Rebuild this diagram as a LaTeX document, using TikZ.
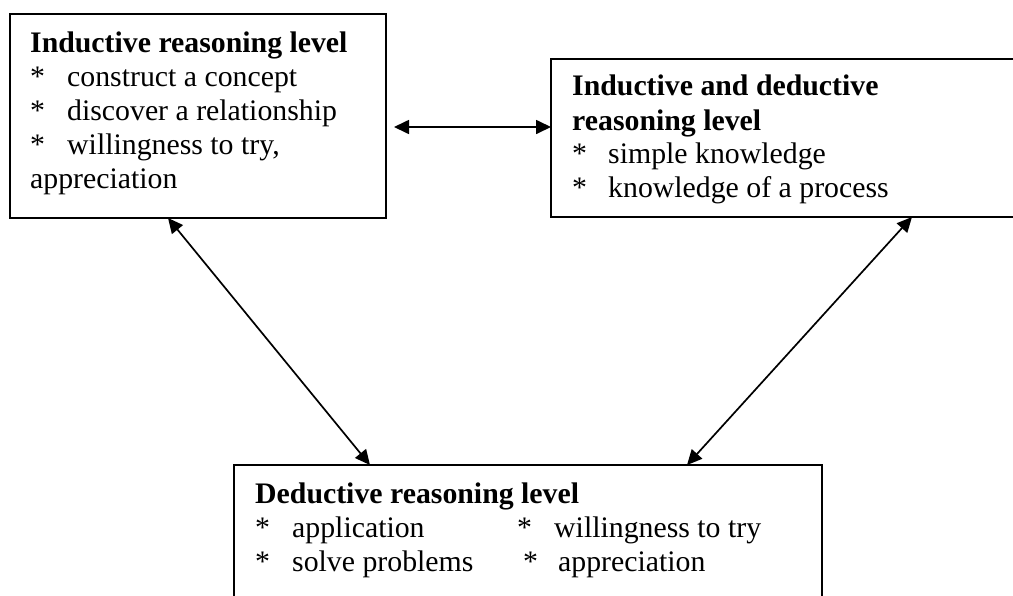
\documentclass[tikz,border=0pt]{standalone}
\usepackage{fontspec}
\setmainfont{Liberation Serif}
\usetikzlibrary{arrows.meta,calc}
\begin{document}
\begin{tikzpicture}[x=1pt,y=-1pt,
  box/.style={draw,line width=1.8pt,inner sep=0pt,outer sep=0pt,anchor=north west},
  txt/.style={anchor=base west,inner sep=0pt,font=\fontsize{29.8}{34}\selectfont},
  arr/.style={{Triangle[length=15pt,width=14pt]}-{Triangle[length=15pt,width=14pt]},line width=1.7pt}]
\useasboundingbox (0,0) rectangle (1013,595);
\clip (0,0) rectangle (1013,595);
% boxes
\node[box,minimum width=376pt,minimum height=204pt] (b1) at (10,14) {};
\node[box,minimum width=489pt,minimum height=158pt] (b2) at (551,59) {};
\node[box,minimum width=588pt,minimum height=160pt] (b3) at (234,465) {};
% box 1 text
\node[txt] (t1a) at (30,52) {\textbf{Inductive reasoning level}};
\node[txt] (t1b) at (30,86) {*};
\node[txt] (t1c) at (67,86) {construct a concept};
\node[txt] (t1d) at (30,120) {*};
\node[txt] (t1e) at (67,120) {discover a relationship};
\node[txt] (t1f) at (30,154) {*};
\node[txt] (t1g) at (67,154) {willingness to try,};
\node[txt] (t1h) at (30,188) {appreciation};
% box 2 text
\node[txt] (t2a) at (572,95) {\textbf{Inductive and deductive}};
\node[txt] (t2b) at (572,130) {\textbf{reasoning level}};
\node[txt] (t2c) at (572,163) {*};
\node[txt] (t2d) at (608,163) {simple knowledge};
\node[txt] (t2e) at (572,197) {*};
\node[txt] (t2f) at (608,197) {knowledge of a process};
% box 3 text
\node[txt] (t3a) at (255,503) {\textbf{Deductive reasoning level}};
\node[txt] (t3b) at (255,537) {*};
\node[txt] (t3c) at (292,537) {application};
\node[txt] (t3d) at (517,537) {*};
\node[txt] (t3e) at (554,537) {willingness to try};
\node[txt] (t3f) at (255,571) {*};
\node[txt] (t3g) at (292,571) {solve problems};
\node[txt] (t3h) at (523,571) {*};
\node[txt] (t3i) at (558,571) {appreciation};
% connectors
\draw[arr] ($(b1.east)+(8,11)$) -- ($(b2.west)+(0,-11)$);
\draw[arr] ($(b1.south west)+(158,0)$) -- ($(b3.north west)+(136,0)$);
\draw[arr] ($(b2.south west)+(361,0)$) -- ($(b3.north west)+(453,0)$);
\end{tikzpicture}
\end{document}
